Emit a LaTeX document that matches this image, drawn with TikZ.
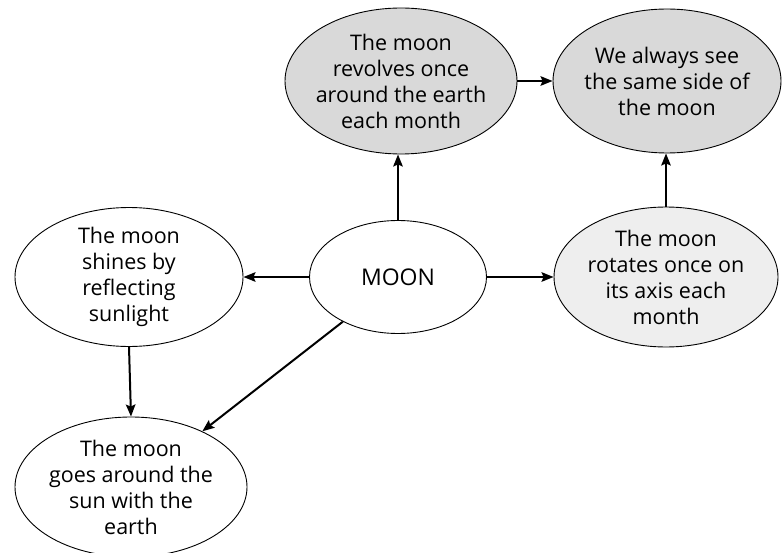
\documentclass[tikz,border=0pt]{standalone}
\usepackage{fontspec}
\setmainfont{Open Sans}
\usetikzlibrary{shapes.geometric,arrows.meta}
\begin{document}
\begin{tikzpicture}[x=1pt,y=-1pt,
  bubble/.style={ellipse,draw=black,line width=0.9pt,inner sep=0pt},
  txt/.style={align=center,inner sep=0pt,font=\fontsize{21.5}{26}\selectfont},
  shaded/.style={bubble,fill=gray!30},
  light/.style={bubble,fill=gray!13},
  link/.style={line width=2pt,-{Stealth[length=12pt,width=9.5pt,inset=2pt]}}]
\useasboundingbox (0,0) rectangle (783,553);
\node[shaded,minimum width=232pt,minimum height=146pt,
  label={[txt]center:The moon\\revolves once\\around the earth\\each month}] (rev) at (401,81) {};
\node[shaded,minimum width=228pt,minimum height=144pt,
  label={[txt]center:We always see\\the same side of\\the moon}] (alw) at (667,81) {};
\node[bubble,minimum width=177pt,minimum height=113pt,
  label={[txt,font=\fontsize{23}{26}\selectfont]center:MOON}] (moon) at (398,277) {};
\node[bubble,minimum width=228pt,minimum height=139pt,
  label={[txt]center:The moon\\shines by\\reflecting\\sunlight}] (shi) at (129,277) {};
\node[light,minimum width=224pt,minimum height=140pt,
  label={[txt]center:The moon\\rotates once on\\its axis each\\month}] (rot) at (666,277) {};
\node[bubble,minimum width=232pt,minimum height=140pt,
  label={[txt]center:The moon\\goes around the\\sun with the\\earth}] (goe) at (131,487) {};
\draw[link] (rev.east) -- (rev.east -| alw.west);
\draw[link] (moon.north) -- (moon.north |- rev.south);
\draw[link] (rot.north) -- (rot.north |- alw.south);
\draw[link] (moon.east) -- (rot.west);
\draw[link] (moon.west) -- (shi.east);
\draw[link] (shi.south) -- (goe.north);
\draw[link] (moon.219) -- (goe.38.6);
\end{tikzpicture}
\end{document}
